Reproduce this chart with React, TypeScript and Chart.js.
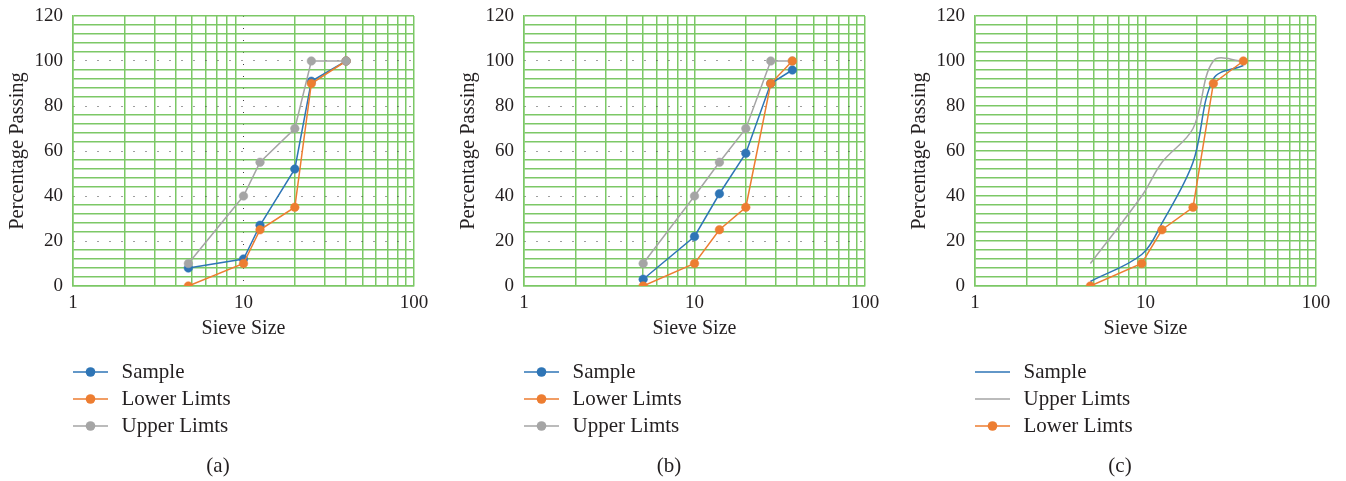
import React, { useEffect, useRef } from 'react';
import { Chart, registerables } from 'chart.js';

Chart.register(...registerables);

// ---- data ----
const sieveA = [4.75, 10, 12.5, 20, 25, 40];
const sampleA = [8, 12, 27, 52, 91, 100];
const lowerA = [0, 10, 25, 35, 90, 100];
const upperA = [10, 40, 55, 70, 100, 100];

const sieveB = [5, 10, 14, 20, 28, 37.5];
const sampleB = [3, 22, 41, 59, 90, 96];
const lowerB = [0, 10, 25, 35, 90, 100];
const upperB = [10, 40, 55, 70, 100, 100];

const sieveC = [4.75, 9.5, 12.5, 19, 25, 37.5];
const sampleC = [2, 14, 28, 55, 92, 98];
const upperC = [10, 40, 55, 70, 100, 100];
const lowerC = [0, 10, 25, 35, 90, 100];

const xGridValues = [1, 2, 3, 4, 5, 6, 7, 8, 9, 10, 20, 30, 40, 50, 60, 70, 80, 90, 100];
const xTickLabels = [1, 10, 100];
const yTickLabels = [0, 20, 40, 60, 80, 100, 120];

// ---- styles ----
const BLUE = '#2e75b6';
const ORANGE = '#ed7d31';
const GRAY = '#a5a5a5';
const GREEN = '#7cc866';
const DOT = '#3c3c3c';
const TEXT = '#231f20';
const FONT = "'Liberation Serif', 'Times New Roman', serif";

type Series = {
  label: string;
  x: number[];
  y: number[];
  color: string;
  marker: boolean;
  smooth: boolean;
  z: number;
};

type Panel = {
  caption: string;
  left: number;
  width: number;
  padRight: number;
  dottedY: boolean;
  dottedX: boolean;
  series: Series[];
};

const panels: Panel[] = [
  {
    caption: '(a)', left: 0, width: 451, padRight: 37, dottedY: true, dottedX: true,
    series: [
      { label: 'Sample', x: sieveA, y: sampleA, color: BLUE, marker: true, smooth: false, z: 0 },
      { label: 'Lower Limts', x: sieveA, y: lowerA, color: ORANGE, marker: true, smooth: false, z: 1 },
      { label: 'Upper Limts', x: sieveA, y: upperA, color: GRAY, marker: true, smooth: false, z: 2 },
    ],
  },
  {
    caption: '(b)', left: 451, width: 451, padRight: 37, dottedY: true, dottedX: false,
    series: [
      { label: 'Sample', x: sieveB, y: sampleB, color: BLUE, marker: true, smooth: false, z: 0 },
      { label: 'Lower Limts', x: sieveB, y: lowerB, color: ORANGE, marker: true, smooth: false, z: 2 },
      { label: 'Upper Limts', x: sieveB, y: upperB, color: GRAY, marker: true, smooth: false, z: 1 },
    ],
  },
  {
    caption: '(c)', left: 902, width: 444, padRight: 30, dottedY: false, dottedX: false,
    series: [
      { label: 'Sample', x: sieveC, y: sampleC, color: BLUE, marker: false, smooth: true, z: 0 },
      { label: 'Upper Limts', x: sieveC, y: upperC, color: GRAY, marker: false, smooth: true, z: 1 },
      { label: 'Lower Limts', x: sieveC, y: lowerC, color: ORANGE, marker: true, smooth: false, z: 2 },
    ],
  },
];

const sideLegend = {
  id: 'sideLegend',
  afterDraw(chart: any, _args: any, opts: any) {
    const { ctx, chartArea } = chart;
    ctx.save();
    ctx.font = `21px ${FONT}`;
    ctx.textBaseline = 'middle';
    chart.data.datasets.forEach((ds: any, i: number) => {
      const y = chartArea.bottom + 86 + i * 27;
      const x0 = chartArea.left;
      ctx.strokeStyle = ds.borderColor;
      ctx.lineWidth = 1.5;
      ctx.beginPath();
      ctx.moveTo(x0, y);
      ctx.lineTo(x0 + 35, y);
      ctx.stroke();
      if (ds.pointRadius > 0) {
        ctx.fillStyle = ds.borderColor;
        ctx.beginPath();
        ctx.arc(x0 + 17.5, y, 4.8, 0, Math.PI * 2);
        ctx.fill();
      }
      ctx.fillStyle = TEXT;
      ctx.textAlign = 'left';
      ctx.fillText(ds.label, x0 + 48.5, y);
    });
    ctx.textAlign = 'center';
    ctx.fillStyle = TEXT;
    ctx.fillText(opts.caption, 218, 466);
    ctx.restore();
  },
};

function PanelChart({ p }: { p: Panel }) {
  const ref = useRef<HTMLCanvasElement | null>(null);
  useEffect(() => {
    if (!ref.current) return;
    const isMajorY = (v: number) => p.dottedY && v % 20 === 0 && v > 0 && v < 120;
    const isMajorX = (v: number) => p.dottedX && v === 10;
    const chart = new Chart(ref.current, {
      type: 'line',
      data: {
        datasets: p.series.map((s) => ({
          label: s.label,
          data: s.x.map((x, i) => ({ x, y: s.y[i] })),
          borderColor: s.color,
          backgroundColor: s.color,
          pointBackgroundColor: s.color,
          pointBorderColor: s.color,
          pointRadius: s.marker ? 4.3 : 0,
          pointBorderWidth: 0.5,
          borderWidth: 1.5,
          tension: s.smooth ? 0.35 : 0,
          fill: false,
          order: 10 - s.z,
        })),
      },
      options: {
        responsive: false,
        animation: false,
        devicePixelRatio: 1,
        events: [],
        layout: { padding: { left: 0, right: p.padRight, top: 16, bottom: 135 } },
        plugins: {
          legend: { display: false },
          tooltip: { enabled: false },
          sideLegend: { caption: p.caption },
        } as any,
        scales: {
          x: {
            type: 'logarithmic',
            min: 1,
            max: 100,
            afterBuildTicks: (scale: any) => {
              scale.ticks = xGridValues.map((v) => ({ value: v }));
            },
            afterFit: (scale: any) => {
              scale.height = 60;
            },
            ticks: {
              autoSkip: false,
              maxRotation: 0,
              padding: 6,
              color: TEXT,
              font: { family: FONT, size: 19 },
              callback: (v: any) => (xTickLabels.includes(Number(v)) ? String(v) : ''),
            },
            grid: {
              drawTicks: false,
              lineWidth: (ctx: any) => (ctx.tick && isMajorX(ctx.tick.value) ? 1 : 1.5),
              color: (ctx: any) => (ctx.tick && isMajorX(ctx.tick.value) ? DOT : GREEN),
            },
            border: {
              color: GREEN,
              width: 1.5,
              dash: (ctx: any) => (ctx.tick && isMajorX(ctx.tick.value) ? [1, 11] : []),
            },
            title: {
              display: true,
              text: 'Sieve Size',
              color: TEXT,
              font: { family: FONT, size: 20 },
              padding: { top: 0, bottom: 5 },
            },
          },
          y: {
            type: 'linear',
            min: 0,
            max: 120,
            afterFit: (scale: any) => {
              scale.width = 73;
              scale.paddingTop = 0;
              scale.paddingBottom = 0;
            },
            ticks: {
              stepSize: 4,
              autoSkip: false,
              padding: 10,
              color: TEXT,
              font: { family: FONT, size: 19 },
              callback: (v: any) => (yTickLabels.includes(Number(v)) ? String(v) : ''),
            },
            grid: {
              drawTicks: false,
              lineWidth: (ctx: any) => (ctx.tick && isMajorY(ctx.tick.value) ? 1 : 1.5),
              color: (ctx: any) => (ctx.tick && isMajorY(ctx.tick.value) ? DOT : GREEN),
            },
            border: {
              color: GREEN,
              width: 1.5,
              dash: (ctx: any) => (ctx.tick && isMajorY(ctx.tick.value) ? [1, 11] : []),
            },
            title: {
              display: true,
              text: 'Percentage Passing',
              color: TEXT,
              font: { family: FONT, size: 20.5 },
              padding: { top: 5, bottom: 0 },
            },
          },
        },
      } as any,
      plugins: [sideLegend],
    });
    return () => chart.destroy();
  }, [p]);
  return (
    <div style={{ position: 'absolute', left: p.left, top: 0, width: p.width, height: 481 }}>
      <canvas ref={ref} width={p.width} height={481} style={{ display: 'block', width: p.width, height: 481 }} />
    </div>
  );
}

export default function App() {
  return (
    <div style={{ position: 'absolute', left: 0, top: 0, width: 1346, height: 481, overflow: 'hidden', background: '#fff' }}>
      {panels.map((p) => (
        <PanelChart key={p.caption} p={p} />
      ))}
    </div>
  );
}
